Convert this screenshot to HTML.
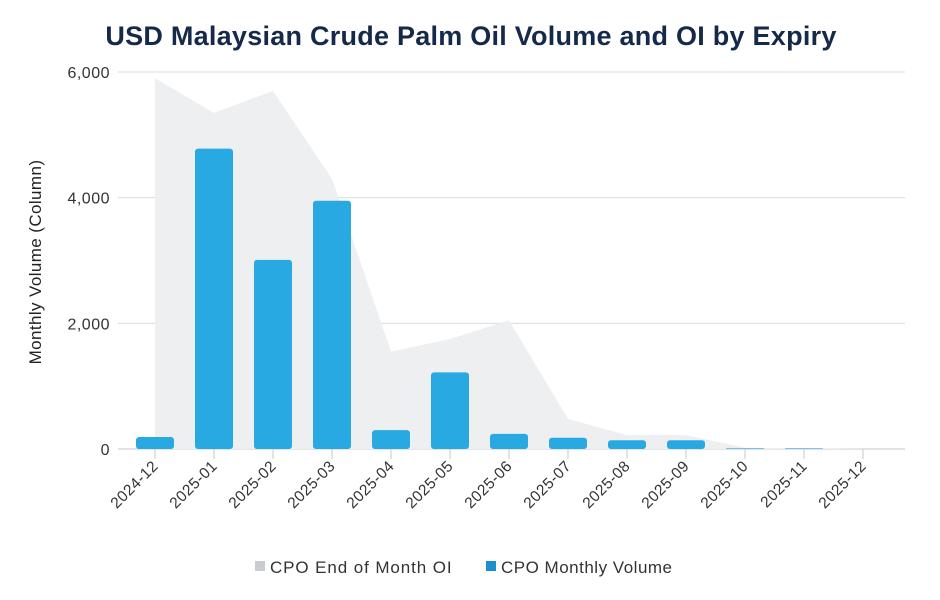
<!DOCTYPE html>
<html><head><meta charset="utf-8"><style>
body{margin:0;background:#fff;font-family:"Liberation Sans",sans-serif;}
svg{display:block}
</style></head><body>
<svg id="chart" width="940" height="600">
<text x="471" y="45" text-anchor="middle" font-size="27" font-weight="bold" fill="#15294b" letter-spacing="0.25">USD Malaysian Crude Palm Oil Volume and OI by Expiry</text>
<g id="grid"></g><g id="area"></g><g id="bars"></g><g id="axes"></g>
<text transform="translate(41,262) rotate(-90)" text-anchor="middle" font-size="17" fill="#222" letter-spacing="0.4">Monthly Volume (Column)</text>
<g>
<g><rect x="255" y="561" width="10" height="10" fill="#c9ccd1"/><text x="270" y="573" font-size="17" letter-spacing="0.9" fill="#333">CPO End of Month OI</text></g>
<g><rect x="486" y="561" width="10" height="10" fill="#1a8fd0"/><text x="501" y="573" font-size="17" letter-spacing="0.5" fill="#333">CPO Monthly Volume</text></g>
</g>
</svg>
<script>
const categories=["2024-12","2025-01","2025-02","2025-03","2025-04","2025-05","2025-06","2025-07","2025-08","2025-09","2025-10","2025-11","2025-12"];
const volume=[190,4780,3010,3950,300,1220,240,180,140,140,10,10,0];
const openInterest=[5900,5350,5700,4300,1550,1750,2050,480,220,220,20,10,0];
const yTicks=[0,2000,4000,6000];
const ns="http://www.w3.org/2000/svg";
const x0=125.5,band=59,yBase=449,yTop=72,yMax=6000;
const xs=i=>x0+band*(i+0.5);
const ys=v=>yBase-(v/yMax)*(yBase-yTop);
function mk(t,a,p){const e=document.createElementNS(ns,t);for(const k in a)e.setAttribute(k,a[k]);p.appendChild(e);return e;}
const grid=document.getElementById('grid'),axes=document.getElementById('axes');
yTicks.forEach(v=>{
 const l=mk('line',{x1:118,x2:905,y1:ys(v),y2:ys(v),stroke:v?'#dcdcdc':'#c8c8c8','stroke-width':1},grid);
 
 
 const t=mk('text',{x:110,y:ys(v)+6,'text-anchor':'end','font-size':16,'letter-spacing':0.5,fill:'#333'},axes);
 t.textContent=v.toLocaleString('en-US');
 
 
});
let pts=openInterest.map((v,i)=>xs(i)+','+ys(v)).join(' ');
pts+=' '+xs(openInterest.length-1)+','+yBase+' '+xs(0)+','+yBase;
const poly=mk('polygon',{points:pts,fill:'#eeeff1'},document.getElementById('area'));


const bars=document.getElementById('bars');
volume.forEach((v,i)=>{
 const h=yBase-ys(v);
 if(h>0.5){
 const r=mk('rect',{x:xs(i)-19,y:ys(v),width:38,height:h,rx:Math.min(3,h/2),fill:'#29a9e1'},bars);
 
 }
 const tk=mk('line',{x1:xs(i),x2:xs(i),y1:yBase,y2:yBase+10,stroke:'#c8c8c8'},axes);
 
 
 const t=mk('text',{x:xs(i)+4,y:yBase+18,'text-anchor':'end','font-size':15.5,'letter-spacing':0.4,fill:'#333',transform:`rotate(-45 ${xs(i)+4} ${yBase+18})`},axes);
 t.textContent=categories[i];
 
 
});
</script>
</body></html>
